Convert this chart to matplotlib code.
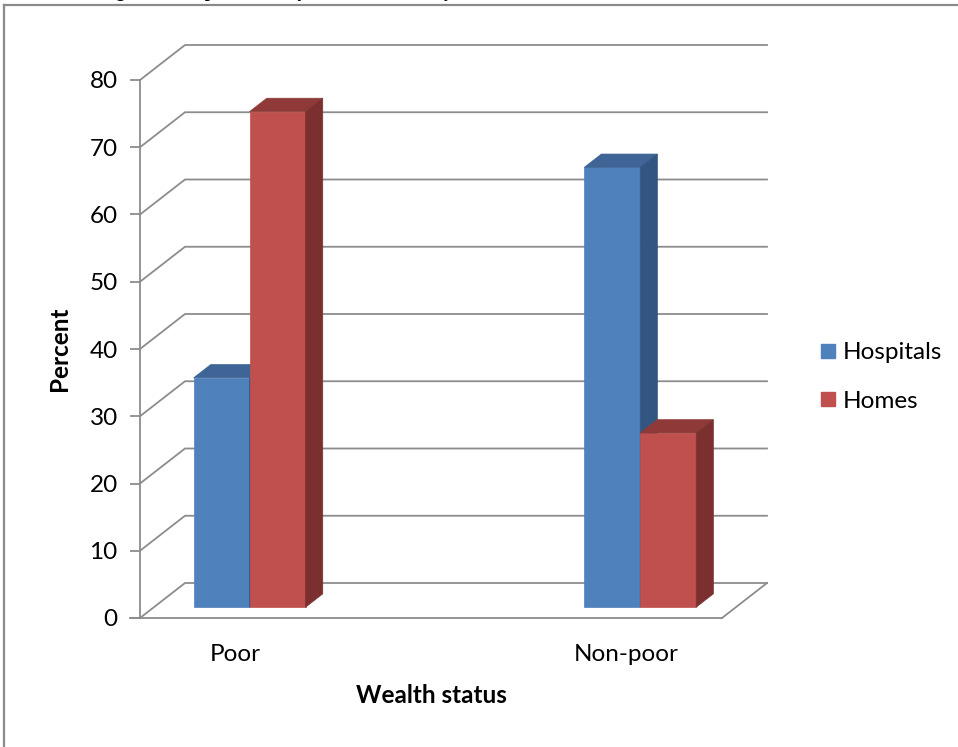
import matplotlib
matplotlib.use("Agg")
import matplotlib.pyplot as plt
from matplotlib.patches import Polygon
from matplotlib.lines import Line2D

plt.rcParams['font.family'] = ['Lato', 'DejaVu Sans']

# data
groups = ["Poor", "Non-poor"]
series = ["Hospitals", "Homes"]
hospitals = [34.1, 65.4]
homes = [73.7, 25.9]
yticks = list(range(0, 81, 10))
title = "Figure 3: Hospital delivery and home delivery across wealth status"

front_cols = ["#4F81BD", "#C0504D"]
top_cols = ["#3E6596", "#8F3A39"]
side_cols = ["#335582", "#7B302F"]
grid_col = "#8C8C8C"

W, H = 958, 747
fig = plt.figure(figsize=(W / 100, H / 100), dpi=100)
ax = fig.add_axes([140 / W, (H - 618) / H, (722 - 140) / W, (618 - 80) / H])
xl, xr = -0.245, 1.245
ax.set_xlim(xl, xr)
ax.set_ylim(0, 80)

# oblique depth vector (data units) for full floor depth
px_x = (722 - 140) / (xr - xl)
px_y = (618 - 80) / 80
DX, DY = 45 / px_x, 35 / px_y
D0, D1 = 0.31, 0.69
bw = 56 / px_x

# back wall gridlines with their left-wall diagonals
for v in yticks:
    ax.plot([xl, xl + DX, xr + DX], [v, v + DY, v + DY], color=grid_col,
            lw=1.3, clip_on=False, zorder=1, solid_joinstyle="miter")
ax.plot([xr, xr + DX], [0, DY], color=grid_col, lw=1.3, clip_on=False, zorder=1)


def bar3d(x0, v, k):
    ox0, oy0 = DX * D0, DY * D0
    ox1, oy1 = DX * D1, DY * D1
    front = [(x0 + ox0, oy0), (x0 + bw + ox0, oy0),
             (x0 + bw + ox0, v + oy0), (x0 + ox0, v + oy0)]
    top = [(x0 + ox0, v + oy0), (x0 + bw + ox0, v + oy0),
           (x0 + bw + ox1, v + oy1), (x0 + ox1, v + oy1)]
    side = [(x0 + bw + ox0, oy0), (x0 + bw + ox1, oy1),
            (x0 + bw + ox1, v + oy1), (x0 + bw + ox0, v + oy0)]
    for pts, c in [(front, front_cols[k]), (top, top_cols[k]), (side, side_cols[k])]:
        ax.add_patch(Polygon(pts, closed=True, facecolor=c, edgecolor=c,
                             lw=0.5, clip_on=False, zorder=3))


for i in range(len(groups)):
    bar3d(i - bw, hospitals[i], 0)
    bar3d(i, homes[i], 1)

for s in ["top", "right"]:
    ax.spines[s].set_visible(False)
for s in ["left", "bottom"]:
    ax.spines[s].set_color(grid_col)
    ax.spines[s].set_linewidth(1.3)
ax.spines["bottom"].set_bounds(xl - 10 / px_x, xr)
ax.spines["bottom"].set_clip_on(False)

ax.set_yticks(yticks)
ax.tick_params(axis="y", length=7, width=1.3, color=grid_col, pad=9,
               labelsize=17.5, labelcolor="#000000")
ax.set_xticks(range(len(groups)))
ax.set_xticklabels(groups)
ax.tick_params(axis="x", length=0, pad=18.5, labelsize=17.5, labelcolor="#000000")
ax.set_xlabel("Wealth status", fontsize=17.5, fontweight="bold", labelpad=14)
ax.set_ylabel("Percent", fontsize=17.5, fontweight="bold", labelpad=13)

handles = [Line2D([], [], marker="s", ls="", markersize=9.5,
                  markerfacecolor=front_cols[k], markeredgecolor=front_cols[k])
           for k in range(2)]
fig.legend(handles, series, loc="center left", bbox_to_anchor=(809 / W, 1 - 377 / H),
           frameon=False, fontsize=17.5, handlelength=0.8, handletextpad=0.2,
           labelspacing=1.15, borderaxespad=0)

# outer frame of the cropped page
fig.add_artist(Line2D([4 / W, 4 / W], [0, 1 - 5 / H], color="#8A8A8A", lw=1.6))
fig.add_artist(Line2D([4 / W, 1], [1 - 5 / H, 1 - 5 / H], color="#8A8A8A", lw=1.6))

# title mostly cut off above the crop, only descenders reach into the picture
fig.text(100 / W, 1 + 3.3 / H, title, fontsize=13, fontweight="bold",
         family=["Liberation Serif", "DejaVu Serif"], va="baseline", ha="left")

fig.savefig("out.png", dpi=100)
